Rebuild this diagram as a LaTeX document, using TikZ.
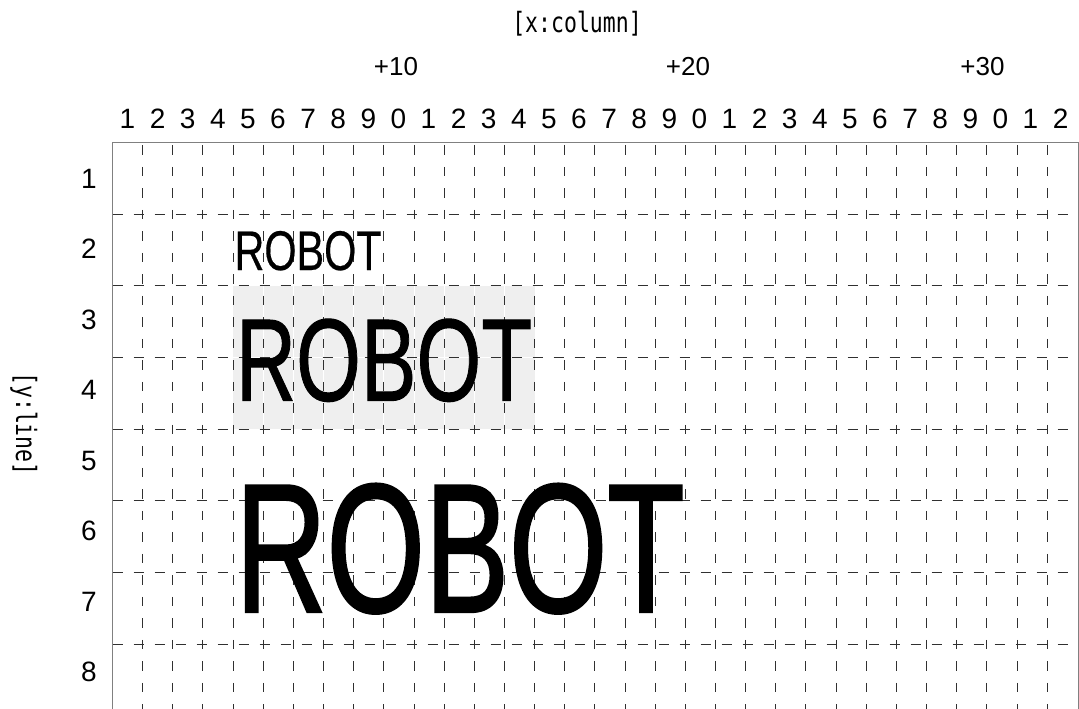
\documentclass[tikz,border=0pt]{standalone}
\usepackage{fontspec}
\setmainfont{Liberation Sans}
\newfontfamily\monof{DejaVu Sans Mono}
\newfontfamily\robotA[FakeBold=0.4]{Liberation Sans}
\newfontfamily\robotB[FakeBold=0.9]{Liberation Sans}
\newfontfamily\robotC[FakeBold=1.6]{Liberation Sans}
\definecolor{shadecol}{HTML}{EFEFEF}
\definecolor{dashcol}{HTML}{303030}
\definecolor{framecol}{HTML}{808080}
\begin{document}
\begin{tikzpicture}[x=1pt,y=-1pt,
  gridv/.style={draw=dashcol, line width=1pt, dash pattern=on 9.5pt off 12pt, dash phase=18.5pt},
  gridh/.style={draw=dashcol, line width=1pt, dash pattern=on 10.5pt off 10.5pt},
  frameline/.style={draw=framecol, line width=1.5pt},
  numlab/.style={inner sep=0pt, outer sep=0pt, anchor=base, font=\fontsize{28}{30}\selectfont},
  pluslab/.style={inner sep=0pt, outer sep=0pt, anchor=base, font=\fontsize{26}{28}\selectfont},
  axislab/.style={inner sep=0pt, outer sep=0pt, anchor=center, font=\monof\fontsize{21.5}{24}\selectfont},
  robotlab/.style={inner sep=0pt, outer sep=0pt, anchor=base west}]
\useasboundingbox (0,0) rectangle (1079,709);
\fill[white] (0,0) rectangle (1079,709);
% shaded cells
\fill[shadecol] (233.1,285.7) rectangle (534.6,429.3);
\foreach \k in {5,...,13} \draw[white, line width=1pt] ({112.5+\k*30.15},285.7) -- ({112.5+\k*30.15},429.3);
\draw[white, line width=1pt] (233.1,357.7) -- (534.6,357.7);
% dashed grid
\foreach \k in {1,...,31} \draw[gridv] ({112.5+\k*30.15},142.3) -- ({112.5+\k*30.15},709);
\foreach \r in {1,...,7} \draw[gridh] (112.5,{142.3+\r*71.7}) -- (1079,{142.3+\r*71.7});
% frame
\draw[frameline] (112.5,709) -- (112.5,142.3) -- (1078.5,142.3) -- (1078.5,709);
% column labels
\foreach \j in {1,...,32} {
  \pgfmathtruncatemacro\dig{mod(\j,10)}
  \node[numlab] (c\j) at ({127.5+(\j-1)*30.1},128.3) {\dig};
}
\node[pluslab] (p10) at (396,75) {+10};
\node[pluslab] (p20) at (688,75) {+20};
\node[pluslab] (p30) at (982.5,75) {+30};
% row labels
\foreach \r in {1,...,8} \node[numlab] (r\r) at (89,{188.3+(\r-1)*70.5}) {\r};
% axis titles
\node[axislab] (xtitle) at (577,24) {\scalebox{1}[1.3]{[x:column]}};
\node[axislab, rotate=-90] (ytitle) at (24,424) {\scalebox{1}[1.3]{[y:line]}};
% ROBOT texts
\node[robotlab] (rsmall) at (234.5,270) {\robotA\fontsize{55.9}{60}\selectfont\scalebox{0.74}[1]{ROBOT}};
\node[robotlab] (rmed) at (236,400.7) {\robotB\fontsize{117.3}{120}\selectfont\scalebox{0.71}[1]{ROBOT}};
\node[robotlab] (rlarge) at (235.5,611.7) {\robotC\fontsize{183}{190}\selectfont\scalebox{0.69}[1]{ROBOT}};
\end{tikzpicture}
\end{document}
